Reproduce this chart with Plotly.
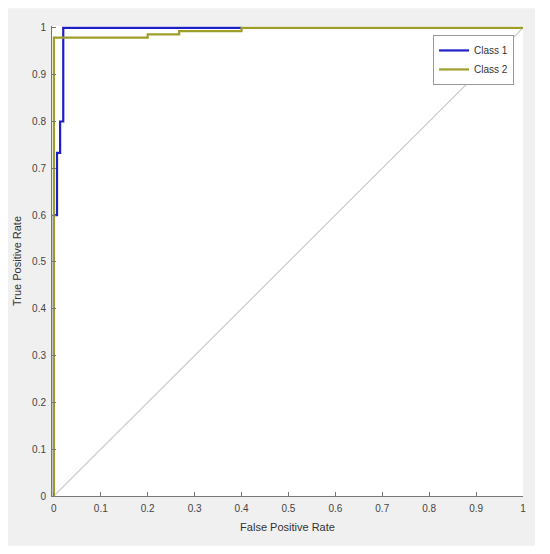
import plotly.graph_objects as go

# ROC curve points
class1_fpr = [0, 0, 0.0067, 0.0067, 0.0133, 0.0133, 0.02, 0.02, 0.4]
class1_tpr = [0, 0.6, 0.6, 0.733, 0.733, 0.8, 0.8, 1.0, 1.0]
class2_fpr = [0, 0, 0.2, 0.2, 0.267, 0.267, 0.4, 0.4, 1.0]
class2_tpr = [0, 0.979, 0.979, 0.986, 0.986, 0.993, 0.993, 1.0, 1.0]
chance = [0, 1]
ticks = [0, 0.1, 0.2, 0.3, 0.4, 0.5, 0.6, 0.7, 0.8, 0.9, 1]
tick_text = ["0", "0.1", "0.2", "0.3", "0.4", "0.5", "0.6", "0.7", "0.8", "0.9", "1"]

fig = go.Figure()
fig.add_trace(go.Scatter(x=chance, y=chance, mode="lines", showlegend=False,
                         line=dict(color="#cccccc", width=1.2), hoverinfo="skip"))
fig.add_trace(go.Scatter(x=class1_fpr, y=class1_tpr, mode="lines", name="Class 1",
                         line=dict(color="#1f1fc8", width=2.2)))
fig.add_trace(go.Scatter(x=class2_fpr, y=class2_tpr, mode="lines", name="Class 2",
                         line=dict(color="#9e9e2a", width=2.2)))

axis_style = dict(
    tickmode="array", tickvals=ticks, ticktext=tick_text,
    ticks="inside", ticklen=4, tickcolor="#777777",
    showline=True, linecolor="#777777", linewidth=1,
    showgrid=False, zeroline=False, automargin=False,
    ticklabelstandoff=3,
    tickfont=dict(size=10, color="#444444"),
)

# the page body adds an 8px offset, so margins are shifted by that much
fig.update_layout(
    width=550, height=554,
    margin=dict(l=44, r=35, t=18, b=66),
    paper_bgcolor="white", plot_bgcolor="white",
    font=dict(family="Liberation Sans, Arial", size=10, color="#333333"),
    xaxis=dict(range=[-0.004, 1.0], title=dict(text="False Positive Rate", standoff=10,
               font=dict(size=11, color="#333333")), **axis_style),
    yaxis=dict(range=[0, 1.004], title=dict(text="True Positive Rate", standoff=8,
               font=dict(size=11, color="#333333")), **axis_style),
    legend=dict(x=0.981, y=0.981, xanchor="right", yanchor="top",
                bgcolor="white", bordercolor="#999999", borderwidth=1,
                font=dict(size=10, color="#333333"),
                tracegroupgap=0, itemwidth=30),
    shapes=[
        dict(type="rect", xref="paper", yref="paper", x0=-0.0934, x1=1.0255,
             y0=-0.106, y1=1.038, fillcolor="#f0f0f0", line=dict(width=0), layer="below"),
        dict(type="rect", xref="paper", yref="paper", x0=0, x1=1, y0=0, y1=1,
             fillcolor="white", line=dict(width=0), layer="below"),
    ],
)

fig.write_html("out.html")
